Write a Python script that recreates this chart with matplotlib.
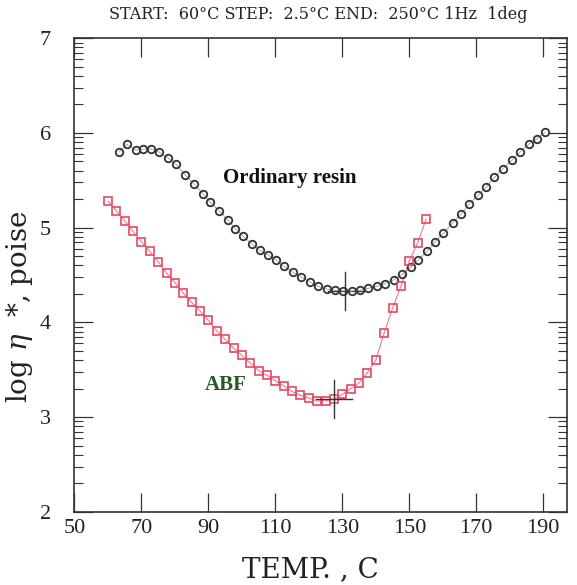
'''Complex viscosity vs temperature for ordinary resin and ABF'''

import numpy as np
import matplotlib
matplotlib.use('Agg')
import matplotlib.pyplot as plt

# ordinary resin (black circles)
resin_temp = [63.4, 65.6, 68.3, 70.6, 72.8, 75.2, 77.8, 80.3, 83.0, 85.7,
              88.3, 90.5, 93.2, 95.8, 98.0, 100.4, 102.9, 105.4, 107.9, 110.2,
              112.7, 115.2, 117.7, 120.2, 122.7, 125.4, 127.8, 130.3, 132.8, 135.3,
              137.8, 140.3, 142.8, 145.5, 147.9, 150.4, 152.7, 155.2, 157.7, 160.2,
              162.9, 165.4, 167.9, 170.5, 173.0, 175.4, 177.9, 180.6, 183.1, 185.6,
              188.1, 190.6]
resin_visc = [5.80, 5.88, 5.82, 5.83, 5.83, 5.80, 5.74, 5.67, 5.56, 5.46,
              5.36, 5.27, 5.18, 5.08, 4.99, 4.91, 4.83, 4.76, 4.71, 4.66,
              4.59, 4.53, 4.48, 4.43, 4.38, 4.35, 4.34, 4.33, 4.33, 4.34,
              4.36, 4.38, 4.41, 4.45, 4.51, 4.58, 4.66, 4.75, 4.85, 4.94,
              5.05, 5.14, 5.25, 5.34, 5.43, 5.53, 5.62, 5.71, 5.80, 5.88,
              5.94, 6.01]

# ABF (red squares)
abf_temp = [60.0, 62.5, 65.0, 67.5, 70.0, 72.5, 75.0, 77.5, 80.0, 82.5,
            85.0, 87.5, 90.0, 92.5, 95.0, 97.5, 100.0, 102.5, 105.0, 107.5,
            110.0, 112.5, 115.0, 117.5, 120.0, 122.5, 125.0, 127.5, 130.0, 132.5,
            135.0, 137.5, 140.0, 142.5, 145.0, 147.5, 150.0, 152.5, 155.0]
abf_visc = [5.28, 5.18, 5.07, 4.96, 4.85, 4.75, 4.64, 4.52, 4.42, 4.31,
            4.21, 4.12, 4.02, 3.91, 3.82, 3.73, 3.65, 3.57, 3.49, 3.44,
            3.38, 3.33, 3.27, 3.23, 3.20, 3.17, 3.17, 3.19, 3.24, 3.30,
            3.36, 3.47, 3.60, 3.89, 4.15, 4.38, 4.65, 4.84, 5.09]

# cursor marks at the minima
resin_min = [130.8, 4.33]
abf_min = [127.5, 3.19]

x_ticks = [50, 70, 90, 110, 130, 150, 170, 190]
y_ticks = [2, 3, 4, 5, 6, 7]

plt.rcParams['font.family'] = ['Liberation Serif', 'DejaVu Serif']
plt.rcParams['mathtext.fontset'] = 'dejavuserif'

fig = plt.figure(figsize=(5.77, 5.85), dpi=100)
ax = fig.add_axes([0.1291, 0.1253, 0.8536, 0.8092])

ax.plot(resin_temp, resin_visc, '-', color='#9a9a9a', lw=0.6, zorder=2)
ax.plot(resin_temp, resin_visc, 'o', ms=5.4, mfc='none', mec='#333333', mew=1.3, zorder=3)
ax.plot(abf_temp, abf_visc, '-', color='#f07a8c', lw=0.8, zorder=2)
ax.plot(abf_temp, abf_visc, 's', ms=5.2, mfc='none', mec='#e34a62', mew=1.2, zorder=3)

# cursors
ax.plot([resin_min[0], resin_min[0]], [resin_min[1] - 0.2, resin_min[1] + 0.2], color='#333333', lw=1.0, zorder=4)
ax.plot([resin_min[0] - 5, resin_min[0] + 5], [resin_min[1], resin_min[1]], color='#333333', lw=1.0, zorder=1)
ax.plot([abf_min[0], abf_min[0]], [abf_min[1] - 0.2, abf_min[1] + 0.2], color='#333333', lw=1.0, zorder=4)
ax.plot([abf_min[0] - 5.5, abf_min[0] + 5.5], [abf_min[1], abf_min[1]], color='#333333', lw=1.0, zorder=4)

ax.text(114.4, 5.52, 'Ordinary resin', fontsize=15, fontweight='bold', ha='center', va='center', color='#111111')
ax.text(95.2, 3.34, 'ABF', fontsize=15, fontweight='bold', ha='center', va='center', color='#245a24')

ax.set_xlim(50, 197.1)
ax.set_ylim(2, 7)
ax.set_xticks(x_ticks)
ax.set_yticks(y_ticks)
minor = [n + np.log10(k) for n in range(2, 7) for k in range(2, 10)]
ax.set_yticks(minor, minor=True)

ax.tick_params(axis='x', which='major', direction='in', length=14, width=0.9, top=True,
               labelsize=16, pad=5, colors='#333333', labelcolor='#222222')
ax.tick_params(axis='y', which='major', direction='in', length=13.5, width=0.9, right=True,
               labelsize=16, pad=17, colors='#333333', labelcolor='#222222')
ax.tick_params(axis='y', which='minor', direction='in', length=6.5, width=0.8, right=True, colors='#333333')

for s in ax.spines.values():
    s.set_color('#333333')
    s.set_linewidth(1.2)

ax.set_xlabel('TEMP. , C', fontsize=20, color='#222222', family='DejaVu Serif')
ax.xaxis.set_label_coords(0.478, -0.094)
ax.set_ylabel(r'log $\eta$  *, poise', fontsize=20, color='#222222', family='DejaVu Serif')
ax.yaxis.set_label_coords(-0.08, 0.432)
fig.text(0.551, 0.976, 'START:  60°C STEP:  2.5°C END:  250°C 1Hz  1deg',
         fontsize=11.5, ha='center', va='center', color='#222222', family='DejaVu Serif')

fig.savefig('out.png', dpi=100)
